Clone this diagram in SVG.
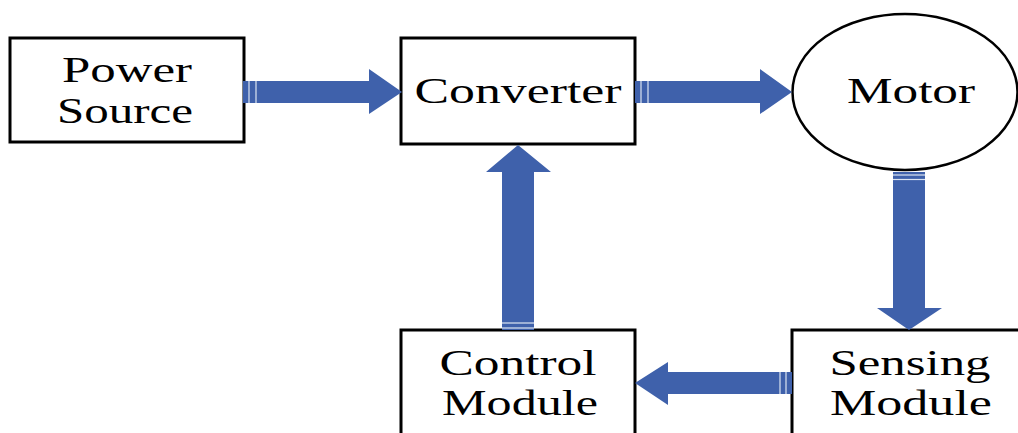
<svg xmlns="http://www.w3.org/2000/svg" width="1018" height="433" viewBox="0 0 1018 433">
<style>
.box{fill:#fff;stroke:#000;stroke-width:3}
.ell{fill:#fff;stroke:#000;stroke-width:2.5}
.lbl{font-family:"Liberation Serif","Times New Roman",serif;font-size:35px;fill:#000;text-anchor:middle}
.arr{fill:#3F61AB}
.gap{stroke:#DCE4F2;stroke-width:1.2}
</style>
<rect width="1018" height="433" fill="#fff"/>
<g id="power-source">
<rect class="box" x="10" y="38" width="234" height="104"/>
<text class="lbl" x="127" y="82" textLength="130" lengthAdjust="spacingAndGlyphs">Power</text>
<text class="lbl" x="125" y="123" textLength="136" lengthAdjust="spacingAndGlyphs">Source</text>
</g>
<g id="converter">
<rect class="box" x="401" y="38" width="234" height="106"/>
<text class="lbl" x="518" y="103" textLength="207" lengthAdjust="spacingAndGlyphs">Converter</text>
</g>
<g id="motor">
<ellipse class="ell" cx="905" cy="92" rx="112.5" ry="78"/>
<text class="lbl" x="911" y="103" textLength="128" lengthAdjust="spacingAndGlyphs">Motor</text>
</g>
<g id="control-module">
<rect class="box" x="401" y="330" width="234" height="120"/>
<text class="lbl" x="518" y="375" textLength="157" lengthAdjust="spacingAndGlyphs">Control</text>
<text class="lbl" x="520" y="415" textLength="156" lengthAdjust="spacingAndGlyphs">Module</text>
</g>
<g id="sensing-module">
<rect class="box" x="792" y="330" width="240" height="120"/>
<text class="lbl" x="910" y="375" textLength="161" lengthAdjust="spacingAndGlyphs">Sensing</text>
<text class="lbl" x="911" y="415" textLength="162" lengthAdjust="spacingAndGlyphs">Module</text>
</g>
<g id="connectors">
<polygon class="arr" points="243,81 369,81 369,69 402,92 369,114 369,103 243,103"/>
<line class="gap" x1="249" y1="81" x2="249" y2="103"/>
<line class="gap" x1="256" y1="81" x2="256" y2="103"/>
<polygon class="arr" points="635,81 760,81 760,69 792,92 760,114 760,103 635,103"/>
<line class="gap" x1="641" y1="81" x2="641" y2="103"/>
<line class="gap" x1="648" y1="81" x2="648" y2="103"/>
<polygon class="arr" points="893,172 925,172 925,308 942,308 909,330 877,308 893,308"/>
<line class="gap" x1="893" y1="175" x2="925" y2="175"/>
<line class="gap" x1="893" y1="179.5" x2="925" y2="179.5"/>
<polygon class="arr" points="502,330 534,330 534,172 551,172 518,145 486,172 502,172"/>
<line class="gap" x1="502" y1="323" x2="534" y2="323"/>
<line class="gap" x1="502" y1="328" x2="534" y2="328"/>
<polygon class="arr" points="792,372 668,372 668,362 635,383 668,405 668,394 792,394"/>
<line class="gap" x1="780" y1="372" x2="780" y2="394"/>
<line class="gap" x1="786" y1="372" x2="786" y2="394"/>
</g>
</svg>
